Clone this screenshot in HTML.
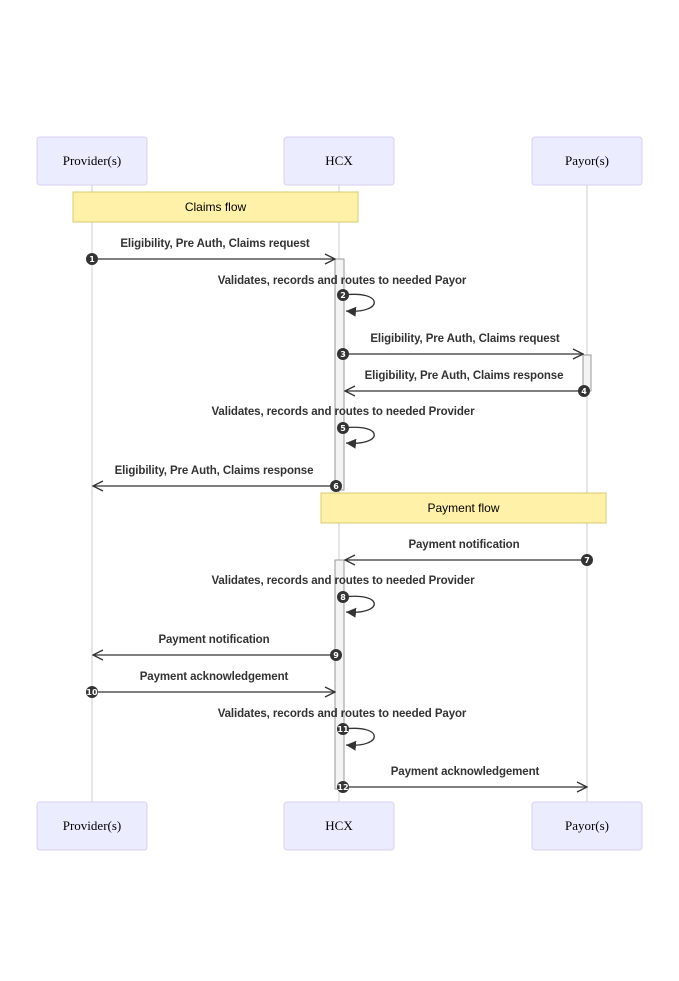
<!DOCTYPE html>
<html><head><meta charset="utf-8"><style>
html,body{margin:0;padding:0;background:#fff;}
svg{display:block;}
.a{fill:#ECECFF;stroke:#d9d0f5;stroke-width:1;}
.at{font-family:"Liberation Serif",serif;font-size:13px;fill:#000;text-anchor:middle;}
.ll{stroke:#ccc;stroke-width:1;}
.m{stroke:#333;stroke-width:1.3;fill:none;}
.lb{font-family:"Liberation Sans",sans-serif;font-size:11.5px;font-weight:bold;fill:#333;text-anchor:middle;letter-spacing:-0.1px;}
.n{fill:#fff2a8;stroke:#d7cc6e;}
.nt{font-family:"Liberation Sans",sans-serif;font-size:12px;fill:#000;text-anchor:middle;}
.act{fill:#f4f4f4;stroke:#999;stroke-width:1;}
.c{fill:#333;}
.ct{font-family:"DejaVu Sans",sans-serif;font-size:8px;font-weight:bold;fill:#fff;text-anchor:middle;}
</style></head><body>
<svg width="679" height="981" viewBox="0 0 679 981" xmlns="http://www.w3.org/2000/svg">
<defs>
<marker id="ar" markerWidth="12" markerHeight="12" refX="11" refY="6" orient="auto" markerUnits="userSpaceOnUse">
<path d="M1,1 L11,6 L1,11" fill="none" stroke="#333" stroke-width="1.3"/></marker>
<marker id="af" markerWidth="12" markerHeight="12" refX="10" refY="6" orient="auto" markerUnits="userSpaceOnUse">
<path d="M0,1 L10,6 L0,11 Z" fill="#333"/></marker>
</defs>
<line class="ll" x1="92" y1="185" x2="92" y2="802"/>
<line class="ll" x1="339" y1="185" x2="339" y2="802"/>
<line class="ll" x1="587" y1="185" x2="587" y2="802"/>

<rect class="a" x="37" y="137" width="110" height="48" rx="3"/><text class="at" x="92" y="165">Provider(s)</text>
<rect class="a" x="284" y="137" width="110" height="48" rx="3"/><text class="at" x="339" y="165">HCX</text>
<rect class="a" x="532" y="137" width="110" height="48" rx="3"/><text class="at" x="587" y="165">Payor(s)</text>
<rect class="a" x="37" y="802" width="110" height="48" rx="3"/><text class="at" x="92" y="830">Provider(s)</text>
<rect class="a" x="284" y="802" width="110" height="48" rx="3"/><text class="at" x="339" y="830">HCX</text>
<rect class="a" x="532" y="802" width="110" height="48" rx="3"/><text class="at" x="587" y="830">Payor(s)</text>

<rect class="act" x="335" y="259" width="9" height="231"/>
<rect class="act" x="583" y="355" width="8" height="36"/>
<rect class="act" x="335" y="560" width="9" height="229"/>

<rect class="n" x="73" y="192" width="285" height="30"/><text class="nt" x="215.5" y="211">Claims flow</text>
<rect class="n" x="321" y="493" width="285" height="30"/><text class="nt" x="463.5" y="512">Payment flow</text>

<text class="lb" x="215" y="247">Eligibility, Pre Auth, Claims request</text>
<line class="m" x1="92" y1="259" x2="335" y2="259" marker-end="url(#ar)"/>
<text class="lb" x="342" y="284">Validates, records and routes to needed Payor</text>
<path class="m" d="M344,295 C384,290 384,314 346,311" marker-end="url(#af)"/>
<text class="lb" x="465" y="342">Eligibility, Pre Auth, Claims request</text>
<line class="m" x1="344" y1="354" x2="583" y2="354" marker-end="url(#ar)"/>
<text class="lb" x="464" y="379">Eligibility, Pre Auth, Claims response</text>
<line class="m" x1="584" y1="391" x2="345" y2="391" marker-end="url(#ar)"/>
<text class="lb" x="343" y="415">Validates, records and routes to needed Provider</text>
<path class="m" d="M344,428 C384,423 384,446 346,443" marker-end="url(#af)"/>
<text class="lb" x="214" y="474">Eligibility, Pre Auth, Claims response</text>
<line class="m" x1="336" y1="486" x2="93" y2="486" marker-end="url(#ar)"/>
<text class="lb" x="464" y="548">Payment notification</text>
<line class="m" x1="587" y1="560" x2="345" y2="560" marker-end="url(#ar)"/>
<text class="lb" x="343" y="584">Validates, records and routes to needed Provider</text>
<path class="m" d="M344,597 C384,592 384,615 346,612" marker-end="url(#af)"/>
<text class="lb" x="214" y="643">Payment notification</text>
<line class="m" x1="336" y1="655" x2="93" y2="655" marker-end="url(#ar)"/>
<text class="lb" x="214" y="680">Payment acknowledgement</text>
<line class="m" x1="92" y1="692" x2="335" y2="692" marker-end="url(#ar)"/>
<text class="lb" x="342" y="717">Validates, records and routes to needed Payor</text>
<path class="m" d="M344,729 C384,724 384,748 346,745" marker-end="url(#af)"/>
<text class="lb" x="465" y="775">Payment acknowledgement</text>
<line class="m" x1="344" y1="787" x2="587" y2="787" marker-end="url(#ar)"/>

<g>
<circle class="c" cx="92" cy="259" r="6"/><text class="ct" x="92" y="262">1</text>
<circle class="c" cx="343" cy="295" r="6"/><text class="ct" x="343" y="298">2</text>
<circle class="c" cx="343" cy="354" r="6"/><text class="ct" x="343" y="357">3</text>
<circle class="c" cx="584" cy="391" r="6"/><text class="ct" x="584" y="394">4</text>
<circle class="c" cx="343" cy="428" r="6"/><text class="ct" x="343" y="431">5</text>
<circle class="c" cx="336" cy="486" r="6"/><text class="ct" x="336" y="489">6</text>
<circle class="c" cx="587" cy="560" r="6"/><text class="ct" x="587" y="563">7</text>
<circle class="c" cx="343" cy="597" r="6"/><text class="ct" x="343" y="600">8</text>
<circle class="c" cx="336" cy="655" r="6"/><text class="ct" x="336" y="658">9</text>
<circle class="c" cx="92" cy="692" r="6"/><text class="ct" x="92" y="695">10</text>
<circle class="c" cx="343" cy="729" r="6"/><text class="ct" x="343" y="732">11</text>
<circle class="c" cx="343" cy="787" r="6"/><text class="ct" x="343" y="790">12</text>
</g>
</svg>
</body></html>
